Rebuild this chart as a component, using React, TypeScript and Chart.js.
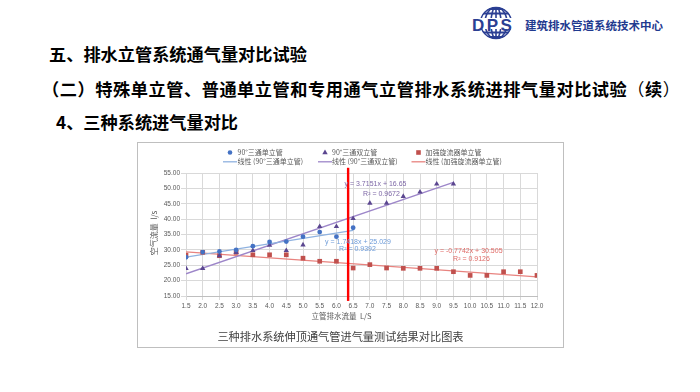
import React, { useEffect, useRef } from "react";
import { Chart, registerables } from "chart.js";

Chart.register(...registerables);

const CJK = '"Noto Sans CJK SC", "Noto Sans", sans-serif';
const NUM = '"Liberation Sans", "DejaVu Sans", sans-serif';

// ---- data ----
const flowRates = [1.5, 2.0, 2.5, 3.0, 3.5, 4.0, 4.5, 5.0, 5.5, 6.0, 6.5, 7.0, 7.5, 8.0, 8.5, 9.0, 9.5, 10.0, 10.5, 11.0, 11.5, 12.0];
const seriesNames = ["90°三通单立管", "90°三通双立管", "加强旋流器单立管"];
const tee90Single = [27.6, 29.3, 29.5, 30.0, 31.2, 32.6, 32.7, 34.3, 35.8, 34.3, 37.2];
const tee90Double = [24.0, 24.0, 28.1, 29.2, 29.8, 31.5, 29.8, 31.6, 37.6, 37.6, 40.2, 45.2, 45.2, 47.4, 48.8, 51.4, 51.4];
const swirlSingle = [28.3, 29.2, 28.1, 29.2, 28.4, 28.4, 28.4, 27.3, 26.3, 26.3, 24.1, 25.2, 24.1, 24.0, 24.0, 24.0, 22.9, 21.7, 21.7, 22.9, 22.9, 21.7];

const trendSingleX = [1.5, 6.5];
const trendSingleY = [27.64, 36.35];
const trendDoubleX = [1.5, 9.5];
const trendDoubleY = [22.22, 51.94];
const trendSwirlX = [1.5, 12.0];
const trendSwirlY = [29.34, 21.21];
const trendEquations = ["y = 1.7418x + 25.029", "y = 3.7151x + 16.65", "y = -0.7742x + 30.505"];
const trendR2 = ["R² = 0.9392", "R² = 0.9672", "R² = 0.9126"];

const refLineX = [6.35, 6.35];
const refLineY = [13.4, 56.7];

const xMin = 1.5, xMax = 12.0, xStep = 0.5;
const yMin = 15, yMax = 55, yStep = 5;

const xTitle = "立管排水流量  L/S";
const yTitle = "空气流量  l/s";
const caption = "三种排水系统伸顶通气管进气量测试结果对比图表";

const colors = {
  single: "#4472c4",
  double: "#5b4690",
  swirl: "#c0504d",
  singleTrend: "#8fb2e0",
  doubleTrend: "#9d86c9",
  swirlTrend: "#e8837f",
  singleText: "#6d9bd8",
  doubleText: "#7d67a6",
  swirlText: "#e06a66",
};

const pts = (xs: number[], ys: number[]) => ys.map((y, i) => ({ x: xs[i], y }));

function drawMarker(ctx: CanvasRenderingContext2D, kind: string, x: number, y: number, color: string) {
  ctx.fillStyle = color;
  ctx.beginPath();
  if (kind === "circle") {
    ctx.arc(x, y, 2.3, 0, Math.PI * 2);
  } else if (kind === "triangle") {
    ctx.moveTo(x, y - 3);
    ctx.lineTo(x + 2.7, y + 1.8);
    ctx.lineTo(x - 2.7, y + 1.8);
    ctx.closePath();
  } else {
    ctx.rect(x - 2.3, y - 2.3, 4.6, 4.6);
  }
  ctx.fill();
}

const overlayPlugin = {
  id: "overlay",
  afterDraw(chart: any) {
    const ctx: CanvasRenderingContext2D = chart.ctx;
    ctx.save();
    // legend
    const cols = [93, 188, 281.5];
    const textX = [100.5, 195, 288.5];
    const kinds = ["circle", "triangle", "rect"];
    const mColors = [colors.single, colors.double, colors.swirl];
    const lColors = [colors.singleTrend, colors.doubleTrend, colors.swirlTrend];
    ctx.font = `7px ${CJK}`;
    ctx.fillStyle = "#595959";
    ctx.textBaseline = "middle";
    ctx.textAlign = "left";
    for (let i = 0; i < 3; i++) {
      drawMarker(ctx, kinds[i], cols[i], 10.5, mColors[i]);
      ctx.fillStyle = "#595959";
      ctx.fillText(seriesNames[i], textX[i], 10.5);
      ctx.strokeStyle = lColors[i];
      ctx.lineWidth = 1.3;
      ctx.beginPath();
      ctx.moveTo(cols[i] - 7, 19.8);
      ctx.lineTo(cols[i] + 7, 19.8);
      ctx.stroke();
      ctx.fillStyle = "#595959";
      ctx.fillText(`线性 (${seriesNames[i]})`, textX[i], 19.8);
    }
    // trendline labels
    ctx.textAlign = "center";
    ctx.font = `7px ${NUM}`;
    const lbl = [
      { c: colors.singleText, ex: 221, ey: 99.7, rx: 220.5, ry: 107.5 },
      { c: colors.doubleText, ex: 238.5, ey: 42.3, rx: 244.5, ry: 52 },
      { c: colors.swirlText, ex: 331.5, ey: 109, rx: 334.5, ry: 117.5 },
    ];
    lbl.forEach((l, i) => {
      ctx.fillStyle = l.c;
      ctx.fillText(trendEquations[i], l.ex, l.ey);
      ctx.fillText(trendR2[i], l.rx, l.ry);
    });
    // axis titles
    ctx.fillStyle = "#595959";
    ctx.font = `7.5px ${CJK}`;
    ctx.fillText(xTitle, 204.5, 173.7);
    ctx.translate(17, 91);
    ctx.rotate(-Math.PI / 2);
    ctx.font = `8px ${CJK}`;
    ctx.fillText(yTitle, 0, 0);
    ctx.restore();
  },
};

function ChartBox() {
  const ref = useRef<HTMLCanvasElement | null>(null);
  useEffect(() => {
    if (!ref.current) return;
    const chart = new Chart(ref.current, {
      type: "scatter",
      data: {
        datasets: [
          {
            label: "ref",
            data: pts(refLineX, refLineY),
            showLine: true,
            borderColor: "#ff0000",
            borderWidth: 2.4,
            pointRadius: 0,
            clip: false,
            order: 1,
          } as any,
          {
            label: seriesNames[0],
            data: pts(flowRates, tee90Single),
            pointStyle: "circle",
            pointRadius: 2.4,
            backgroundColor: colors.single,
            borderColor: colors.single,
            borderWidth: 0,
            order: 2,
          },
          {
            label: seriesNames[1],
            data: pts(flowRates, tee90Double),
            pointStyle: "triangle",
            pointRadius: 3.1,
            backgroundColor: colors.double,
            borderColor: colors.double,
            borderWidth: 0,
            order: 2,
          },
          {
            label: seriesNames[2],
            data: pts(flowRates, swirlSingle),
            pointStyle: "rect",
            pointRadius: 3.3,
            backgroundColor: colors.swirl,
            borderColor: colors.swirl,
            borderWidth: 0,
            order: 2,
          },
          {
            label: "线性 (" + seriesNames[0] + ")",
            data: pts(trendSingleX, trendSingleY),
            showLine: true,
            borderColor: colors.singleTrend,
            borderWidth: 1.4,
            pointRadius: 0,
            order: 3,
          },
          {
            label: "线性 (" + seriesNames[1] + ")",
            data: pts(trendDoubleX, trendDoubleY),
            showLine: true,
            borderColor: colors.doubleTrend,
            borderWidth: 1.4,
            pointRadius: 0,
            order: 3,
          },
          {
            label: "线性 (" + seriesNames[2] + ")",
            data: pts(trendSwirlX, trendSwirlY),
            showLine: true,
            borderColor: colors.swirlTrend,
            borderWidth: 1.4,
            pointRadius: 0,
            order: 3,
          },
        ],
      },
      options: {
        responsive: false,
        maintainAspectRatio: false,
        devicePixelRatio: 1,
        animation: false,
        events: [],
        layout: { padding: { left: 0, top: 31, right: 27, bottom: 0 } },
        plugins: { legend: { display: false }, tooltip: { enabled: false } },
        scales: {
          x: {
            type: "linear",
            min: xMin,
            max: xMax,
            ticks: {
              stepSize: xStep,
              maxTicksLimit: 40,
              autoSkip: false,
              maxRotation: 0,
              minRotation: 0,
              padding: 2,
              color: "#595959",
              font: { family: NUM, size: 6.5 },
              callback: (v: any) => Number(v).toFixed(1),
            },
            grid: { color: "#d9d9d9", lineWidth: 1, tickLength: 4, tickColor: "#d9d9d9" },
            border: { color: "#bfbfbf", width: 1 },
            afterFit: (s: any) => {
              s.height = 52;
            },
          },
          y: {
            type: "linear",
            min: yMin,
            max: yMax,
            ticks: {
              stepSize: yStep,
              padding: 1,
              color: "#595959",
              font: { family: NUM, size: 6.5 },
              callback: (v: any) => Number(v).toFixed(2),
            },
            grid: { color: "#d9d9d9", lineWidth: 1, tickLength: 5, tickColor: "#d9d9d9" },
            border: { color: "#d9d9d9", width: 1 },
            afterFit: (s: any) => {
              s.width = 49;
            },
          },
        },
      },
      plugins: [overlayPlugin],
    });
    return () => chart.destroy();
  }, []);
  return (
    <canvas
      ref={ref}
      width={427}
      height={206}
      style={{ position: "absolute", left: 137, top: 142, width: 427, height: 206 }}
    />
  );
}

function Logo() {
  const blue = "#2b3f93";
  return (
    <>
      <svg style={{ position: "absolute", left: 479, top: 6 }} width={34} height={34} viewBox="0 0 34 34">
        <defs>
          <clipPath id="globeClip">
            <circle cx="17" cy="17" r="16" />
          </clipPath>
        </defs>
        <g clipPath="url(#globeClip)" stroke={blue} fill="none">
          <line x1="0" y1="3" x2="34" y2="3" strokeWidth="2.2" />
          <line x1="0" y1="7.5" x2="34" y2="7.5" strokeWidth="2.2" />
          <line x1="0" y1="26.5" x2="34" y2="26.5" strokeWidth="2.2" />
          <line x1="0" y1="31" x2="34" y2="31" strokeWidth="2.2" />
          <ellipse cx="17" cy="17" rx="5" ry="16" strokeWidth="1.6" />
          <ellipse cx="17" cy="17" rx="11" ry="16" strokeWidth="1.6" />
          <line x1="17" y1="0" x2="17" y2="34" strokeWidth="1.6" />
        </g>
        <circle cx="17" cy="17" r="15.5" stroke={blue} strokeWidth="1.4" fill="none" />
        <rect x="0" y="12" width="34" height="11" fill="#ffffff" />
      </svg>
      <div
        style={{
          position: "absolute",
          left: 472,
          top: 16,
          fontFamily: NUM,
          fontWeight: 700,
          fontSize: 17,
          lineHeight: "19px",
          letterSpacing: 2.5,
          color: blue,
          whiteSpace: "nowrap",
        }}
      >
        DPS
      </div>
      <div
        style={{
          position: "absolute",
          left: 525,
          top: 18,
          fontFamily: CJK,
          fontWeight: 700,
          fontSize: 11.5,
          lineHeight: "14px",
          color: "#1f3a8f",
          whiteSpace: "nowrap",
        }}
      >
        建筑排水管道系统技术中心
      </div>
    </>
  );
}

const titleStyle: React.CSSProperties = {
  position: "absolute",
  fontFamily: CJK,
  fontWeight: 700,
  fontSize: 17.2,
  lineHeight: "20px",
  color: "#000000",
  whiteSpace: "nowrap",
};

export default function App() {
  return (
    <div
      style={{
        position: "absolute",
        left: 0,
        top: 0,
        width: 700,
        height: 392,
        background: "#ffffff",
        overflow: "hidden",
      }}
    >
      <Logo />
      <div style={{ ...titleStyle, left: 49, top: 44 }}>五、排水立管系统通气量对比试验</div>
      <div style={{ ...titleStyle, left: 42, top: 79, letterSpacing: 0.55 }}>
        （二）特殊单立管、普通单立管和专用通气立管排水系统进排气量对比试验<span style={{ fontWeight: 400 }}>（</span>续<span style={{ fontWeight: 400 }}>）</span>
      </div>
      <div style={{ ...titleStyle, left: 56, top: 112 }}>4、三种系统进气量对比</div>
      <div
        style={{
          position: "absolute",
          left: 137,
          top: 142,
          width: 427,
          height: 206,
          border: "1.5px solid #bfbfbf",
          boxSizing: "border-box",
        }}
      />
      <ChartBox />
      <div
        style={{
          position: "absolute",
          left: 137,
          width: 407,
          top: 329,
          textAlign: "center",
          fontFamily: CJK,
          fontSize: 11.2,
          lineHeight: "14px",
          color: "#404040",
          whiteSpace: "nowrap",
        }}
      >
        {caption}
      </div>
    </div>
  );
}
